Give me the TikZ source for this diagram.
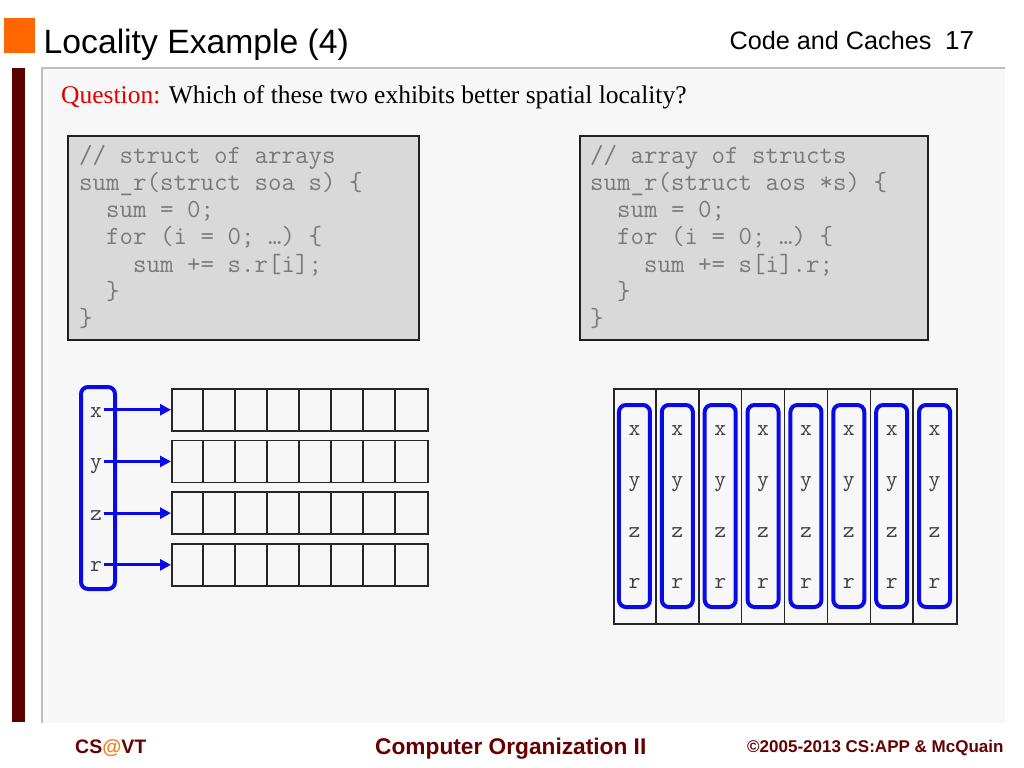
\documentclass[tikz,border=0pt]{standalone}
\usepackage{fontspec}
\setmainfont{Liberation Serif}
\newfontfamily\hsans{Liberation Sans}
\usetikzlibrary{arrows.meta}
\definecolor{orangeSq}{HTML}{FF6600}
\definecolor{barRed}{HTML}{5C0000}
\definecolor{panelBg}{HTML}{F7F7F7}
\definecolor{panelLine}{HTML}{BDBDBD}
\definecolor{codeBg}{HTML}{D9D9D9}
\definecolor{codeFg}{HTML}{7A7A7A}
\definecolor{qRed}{HTML}{E00000}
\definecolor{footRed}{HTML}{660000}
\definecolor{atOrange}{HTML}{F08020}
\definecolor{selBlue}{HTML}{0A0AE6}
\tikzset{
  codebox/.style={draw=black!88, line width=2bp, fill=codeBg, inner sep=0pt, anchor=north west},
  codeline/.style={anchor=base west, inner sep=0pt, text=codeFg, font=\ttfamily\fontsize{26.2bp}{27bp}\selectfont},
  rowbox/.style={draw=black!85, line width=1.5bp, inner sep=0pt, anchor=north west, minimum width=256bp, minimum height=42bp},
  cellline/.style={draw=black!85, line width=1.5bp},
  letter/.style={anchor=base, inner ysep=0pt, inner xsep=1.5bp, text=black!75, font=\ttfamily\fontsize{23bp}{24bp}\selectfont},
  selbox/.style={draw=selBlue, line width=4bp, rounded corners=7bp, inner sep=0pt, anchor=north west},
  ptr/.style={draw=selBlue, line width=3bp, -{Triangle[length=11bp,width=11bp]}},
  foot/.style={anchor=base west, inner sep=0pt, text=footRed, font=\hsans\bfseries\fontsize{19.5bp}{22bp}\selectfont}
}
\begin{document}
\begin{tikzpicture}[x=1bp,y=-1bp]
\useasboundingbox (0,0) rectangle (1024,768);
\fill[white] (0,0) rectangle (1024,768);
% panel
\fill[panelBg] (42,68) rectangle (1005,723);
\draw[panelLine, line width=1.3bp] (42,723) -- (42,68) -- (1005,68);
\fill[barRed] (12,68) rectangle (25,722);
\fill[orangeSq] (4,18) rectangle (35,53);
% header
\node[anchor=base west, inner sep=0pt, font=\hsans\fontsize{33.7bp}{40bp}\selectfont] (title) at (43.5,54) {Locality Example (4)};
\node[anchor=base west, inner sep=0pt, font=\hsans\fontsize{25.2bp}{30bp}\selectfont] (sect) at (729.5,50) {Code and Caches};
\node[anchor=base west, inner sep=0pt, font=\hsans\fontsize{26bp}{30bp}\selectfont] (pgno) at (945,50) {17};
% question
\node[anchor=base west, inner sep=0pt, font=\fontsize{25.5bp}{30bp}\selectfont] (quest) at (61,103.5) {{\color{qRed}Question:} Which of these two exhibits better spatial locality?};
% code boxes
\node[codebox, minimum width=351bp, minimum height=204bp] (codeL) at (67,135) {};
\node[codebox, minimum width=348bp, minimum height=204bp] (codeR) at (579,135) {};
\node[codeline] (cl1) at (79,163) {// struct of arrays};
\node[codeline] (cl2) at (79,190.3) {sum\_r(struct soa s) \{};
\node[codeline] (cl3) at (79,217.6) {\phantom{xx}sum = 0;};
\node[codeline] (cl4) at (79,244.9) {\phantom{xx}for (i = 0; …) \{};
\node[codeline] (cl5) at (79,272.2) {\phantom{xxxx}sum += s.r[i];};
\node[codeline] (cl6) at (79,299.5) {\phantom{xx}\}};
\node[codeline] (cl7) at (79,326.8) {\}};
\node[codeline] (cr1) at (590,163) {// array of structs};
\node[codeline] (cr2) at (590,190.3) {sum\_r(struct aos *s) \{};
\node[codeline] (cr3) at (590,217.6) {\phantom{xx}sum = 0;};
\node[codeline] (cr4) at (590,244.9) {\phantom{xx}for (i = 0; …) \{};
\node[codeline] (cr5) at (590,272.2) {\phantom{xxxx}sum += s[i].r;};
\node[codeline] (cr6) at (590,299.5) {\phantom{xx}\}};
\node[codeline] (cr7) at (590,326.8) {\}};
% struct of arrays diagram
\foreach \r/\ty in {1/388,2/439.7,3/491.4,4/543.1}{
  \node[rowbox] (row\r) at (171,\ty) {};
  \foreach \k in {1,...,7}{
    \draw[cellline] ([xshift=32*\k bp]row\r.north west) -- ([xshift=32*\k bp]row\r.south west);
  }
}
\node[selbox, minimum width=34bp, minimum height=202bp] (grpL) at (79,385) {};
\node[letter] (lx) at (96,417) {x};
\node[letter] (ly) at (96,468.5) {y};
\node[letter] (lz) at (96,520) {z};
\node[letter] (lr) at (96,571.5) {r};
\draw[ptr] (lx.east |- row1.west) -- (row1.west);
\draw[ptr] (ly.east |- row2.west) -- (row2.west);
\draw[ptr] (lz.east |- row3.west) -- (row3.west);
\draw[ptr] (lr.east |- row4.west) -- (row4.west);
% array of structs diagram
\node[draw=black!85, line width=1.5bp, inner sep=0pt, anchor=north west, minimum width=343bp, minimum height=235bp] (aos) at (613,388) {};
\foreach \k in {1,...,7}{
  \draw[cellline] ([xshift=42.875*\k bp]aos.north west) -- ([xshift=42.875*\k bp]aos.south west);
}
\foreach \k in {1,...,8}{
  \pgfmathsetmacro{\cx}{613+42.875*(\k-0.5)}
  \node[selbox, anchor=north, minimum width=31bp, minimum height=202bp] (grp\k) at (\cx,403) {};
  \node[letter] (ax\k) at (\cx,435.5) {x};
  \node[letter] (ay\k) at (\cx,486.5) {y};
  \node[letter] (az\k) at (\cx,537.5) {z};
  \node[letter] (ar\k) at (\cx,588.5) {r};
}
% footer
\node[foot] (ftl) at (75,753) {CS{\color{atOrange}@}VT};
\node[foot, font=\hsans\bfseries\fontsize{22.7bp}{26bp}\selectfont] (ftm) at (375,754) {Computer Organization II};
\node[foot, font=\hsans\bfseries\fontsize{17bp}{20bp}\selectfont] (ftr) at (747,752) {©2005-2013 CS:APP \& McQuain};
\end{tikzpicture}
\end{document}
